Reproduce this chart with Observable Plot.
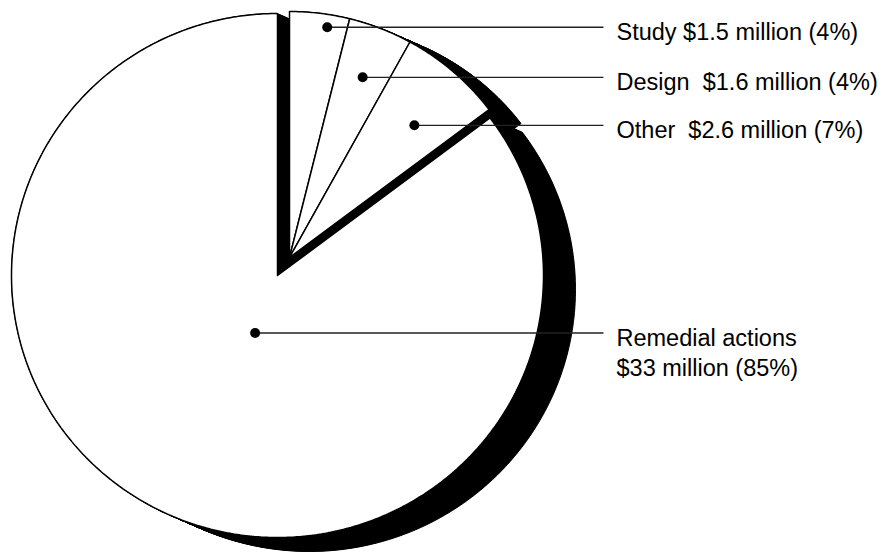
<!DOCTYPE html>
<html><head><meta charset="utf-8">
<script src="https://cdn.jsdelivr.net/npm/d3@7"></script>
<script src="https://cdn.jsdelivr.net/npm/@observablehq/plot@0.6"></script>
<style>html,body{margin:0;padding:0;background:#fff;} #chart svg{display:block;}</style>
</head><body><div id="chart"></div>
<script>
// ---- data ----
const categories = ["Study", "Design", "Other", "Remedial actions"];
const valuesMillion = [1.5, 1.6, 2.6, 33];
const percentLabels = [4, 4, 7, 85];
const exploded = [true, true, true, false];
const nameSeparators = [" ", "\u00a0 ", "\u00a0 ", "\n"];

// ---- layout / style ----
const W = 890, H = 553;
const RX = 266, RY = 262;          // px per unit radius
const CX = 277, CY = 275;          // pie centre in px
const explodeShift = [12 / RX, 18 / RY];
const explodeRadius = 246 / RY;
const shadowDx = 32, shadowDy = 14, shadowSteps = 40;
const dotAngleFrac = [0.657, 0.527, 0.583, 0.482];
const dotRadiusFrac = [0.948, 0.789, 0.734, 0.235];
const labelX = (616 - CX) / RX, leaderEndX = (603 - CX) / RX;
const font = "'Liberation Sans', Arial, Helvetica, sans-serif";

const arcs = d3.pie().sort(null).value(d => d)(valuesMillion);

const slices = arcs.map((a, i) => ({
  i, name: categories[i], a,
  ox: exploded[i] ? explodeShift[0] : 0,
  oy: exploded[i] ? explodeShift[1] : 0,
  r: exploded[i] ? explodeRadius : 1
}));

const polyPts = slices.flatMap(s => {
  const span = s.a.endAngle - s.a.startAngle;
  const n = Math.max(2, Math.ceil(span / (Math.PI / 360)));
  const pts = [{name: s.name, x: s.ox, y: s.oy}];
  for (let k = 0; k <= n; k++) {
    const t = s.a.startAngle + span * k / n;
    pts.push({name: s.name, x: s.ox + s.r * Math.sin(t), y: s.oy + s.r * Math.cos(t)});
  }
  pts.push({name: s.name, x: s.ox, y: s.oy});
  return pts;
});

const labels = slices.map(s => {
  const ang = s.a.startAngle + (s.a.endAngle - s.a.startAngle) * dotAngleFrac[s.i];
  const rr = s.r * dotRadiusFrac[s.i];
  return {
    x: s.ox + rr * Math.sin(ang),
    y: s.oy + rr * Math.cos(ang),
    text: `${s.name}${nameSeparators[s.i]}$${valuesMillion[s.i]} million (${percentLabels[s.i]}%)`
  };
});

const shadowMarks = d3.range(0, shadowSteps + 1).map(k =>
  Plot.line(polyPts, {
    x: "x", y: "y", z: "name", fill: "black", stroke: "black", strokeWidth: 1,
    dx: shadowDx * k / shadowSteps, dy: shadowDy * k / shadowSteps
  })
);

const chart = Plot.plot({
  width: W, height: H, margin: 0,
  style: {background: "white", fontFamily: font},
  x: {domain: [-CX / RX, (W - CX) / RX], axis: null},
  y: {domain: [-(H - CY) / RY, CY / RY], axis: null},
  marks: [
    ...shadowMarks,
    Plot.line(polyPts, {x: "x", y: "y", z: "name", fill: "white", stroke: "black",
      strokeWidth: 1.5, strokeLinejoin: "miter"}),
    Plot.link(labels, {x1: "x", y1: "y", x2: () => leaderEndX, y2: "y", stroke: "#222", strokeWidth: 1.3}),
    Plot.dot(labels, {x: "x", y: "y", r: 5, fill: "black", stroke: null}),
    Plot.text(labels, {x: () => labelX, y: "y", text: "text", textAnchor: "start",
      lineAnchor: "top", dy: -8.5, fontSize: 23.5, fontFamily: font, fill: "black", lineHeight: 1.27})
  ]
});
document.getElementById("chart").appendChild(chart);
</script>
</body></html>
